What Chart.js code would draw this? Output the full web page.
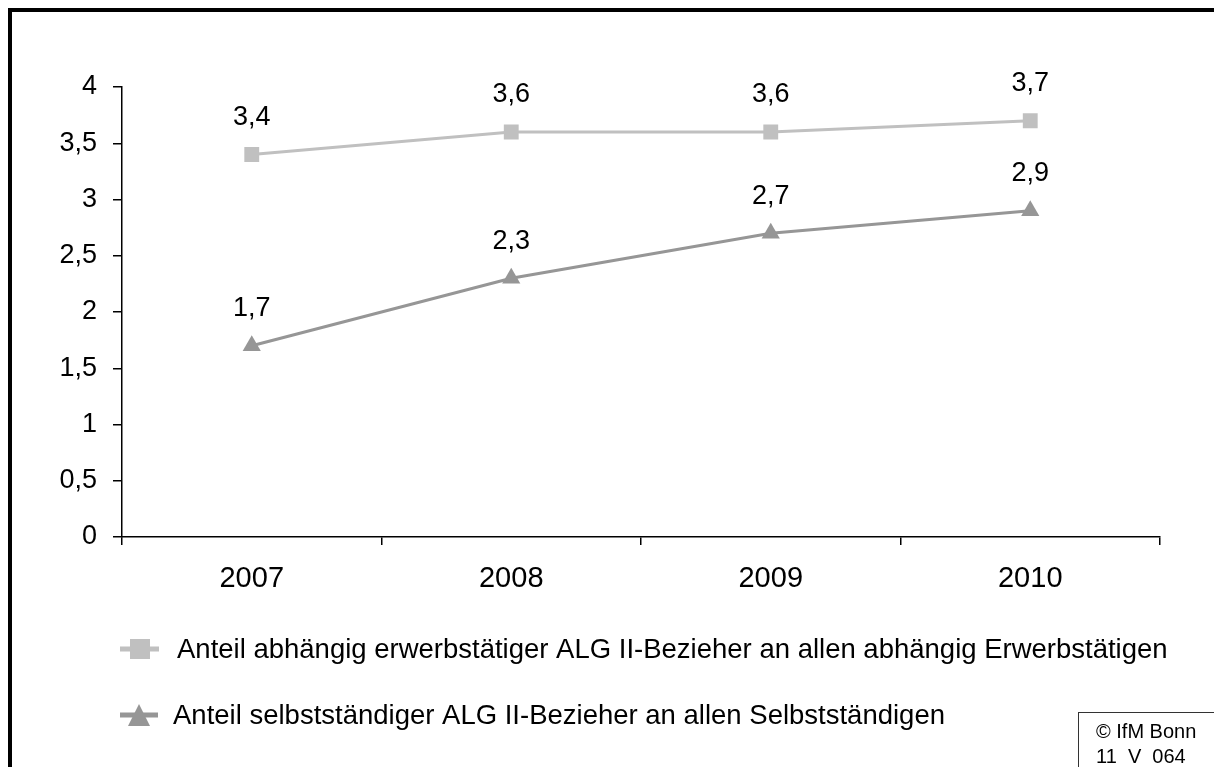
<!DOCTYPE html>
<html>
<head>
<meta charset="utf-8">
<script src="https://cdn.jsdelivr.net/npm/chart.js@4.4.0/dist/chart.umd.min.js"></script>
<style>
  html, body { margin: 0; padding: 0; background: #fff; }
  #wrap { position: relative; width: 1214px; height: 767px; overflow: hidden; }
  #copyBox {
    position: absolute; left: 1078px; top: 712px; width: 140px; height: 70px;
    border: 1.5px solid #333; box-sizing: border-box;
    font-family: "Liberation Sans", Arial, sans-serif; font-size: 20px; color: #000;
    padding-left: 17px; padding-top: 6px; line-height: 25px;
  }
</style>
</head>
<body>
<div id="wrap">
  <canvas id="chart" width="1214" height="767"></canvas>
  <div id="copyBox">© IfM Bonn<br>11&nbsp; V&nbsp; 064</div>
</div>
<script>
// Data
const years = ['2007', '2008', '2009', '2010'];
const abhaengigValues = [3.4, 3.6, 3.6, 3.7];
const selbststaendigValues = [1.7, 2.3, 2.7, 2.9];
const seriesNames = [
  'Anteil abhängig erwerbstätiger ALG II-Bezieher an allen abhängig Erwerbstätigen',
  'Anteil selbstständiger ALG II-Bezieher an allen Selbstständigen'
];

const FONT = '"Liberation Sans", Arial, sans-serif';
const fmt = v => String(v).replace('.', ',');

// White background and the black frame round the whole picture
const framePlugin = {
  id: 'frame',
  beforeDraw(chart) {
    const ctx = chart.ctx;
    ctx.save();
    ctx.fillStyle = '#fff';
    ctx.fillRect(0, 0, chart.width, chart.height);
    ctx.strokeStyle = '#000';
    ctx.lineWidth = 4;
    ctx.strokeRect(10, 10, chart.width + 20, chart.height + 20);
    ctx.restore();
  }
};

// Value labels above each point
const valueLabels = {
  id: 'valueLabels',
  afterDatasetsDraw(chart) {
    const ctx = chart.ctx;
    ctx.save();
    ctx.font = '27px ' + FONT;
    ctx.fillStyle = '#000';
    ctx.textAlign = 'center';
    ctx.textBaseline = 'middle';
    chart.data.datasets.forEach((ds, i) => {
      chart.getDatasetMeta(i).data.forEach((pt, j) => {
        ctx.fillText(fmt(ds.data[j]), pt.x, pt.y - 37);
      });
    });
    ctx.restore();
  }
};

// Stacked legend under the axis: line with marker, then the label
const stackedLegend = {
  id: 'stackedLegend',
  afterDraw(chart) {
    const ctx = chart.ctx;
    const rows = [
      { y: 649, x0: 120, x1: 159, mx: 140, tx: 177 },
      { y: 715, x0: 120, x1: 158, mx: 139, tx: 173 }
    ];
    ctx.save();
    chart.data.datasets.forEach((ds, i) => {
      const r = rows[i];
      ctx.strokeStyle = ds.borderColor;
      ctx.lineWidth = 5;
      ctx.beginPath();
      ctx.moveTo(r.x0, r.y);
      ctx.lineTo(r.x1, r.y);
      ctx.stroke();
      ctx.fillStyle = ds.pointBackgroundColor;
      if (ds.pointStyle === 'rect') {
        ctx.fillRect(r.mx - 10, r.y - 10, 20, 20);
      } else {
        ctx.beginPath();
        ctx.moveTo(r.mx, r.y - 11);
        ctx.lineTo(r.mx + 11, r.y + 11);
        ctx.lineTo(r.mx - 11, r.y + 11);
        ctx.closePath();
        ctx.fill();
      }
      ctx.fillStyle = '#000';
      ctx.font = '27.5px ' + FONT;
      ctx.textAlign = 'left';
      ctx.textBaseline = 'middle';
      ctx.fillText(ds.label, r.tx, r.y + 1);
    });
    ctx.restore();
  }
};

new Chart(document.getElementById('chart'), {
  type: 'line',
  data: {
    labels: years,
    datasets: [
      {
        label: seriesNames[0],
        data: abhaengigValues,
        borderColor: '#c0c0c0',
        backgroundColor: '#c0c0c0',
        pointBackgroundColor: '#c0c0c0',
        pointBorderColor: '#c0c0c0',
        pointStyle: 'rect',
        pointRadius: 10.5,
        pointBorderWidth: 0,
        borderWidth: 3,
        tension: 0
      },
      {
        label: seriesNames[1],
        data: selbststaendigValues,
        borderColor: '#969696',
        backgroundColor: '#969696',
        pointBackgroundColor: '#969696',
        pointBorderColor: '#969696',
        pointStyle: 'triangle',
        pointRadius: 10.5,
        pointBorderWidth: 0,
        borderWidth: 3,
        tension: 0
      }
    ]
  },
  options: {
    responsive: false,
    animation: false,
    layout: { padding: { left: 0, top: 87, right: 54, bottom: 0 } },
    plugins: {
      legend: { display: false },
      tooltip: { enabled: false }
    },
    scales: {
      x: {
        offset: true,
        grid: {
          offset: true,
          drawOnChartArea: false,
          tickLength: 8,
          color: '#000',
          lineWidth: 1.5
        },
        border: { color: '#000', width: 1.5 },
        ticks: {
          font: { family: FONT, size: 29 },
          color: '#000',
          padding: 17
        },
        afterFit(scale) { scale.height = 230; }
      },
      y: {
        min: 0,
        max: 4,
        grid: {
          drawOnChartArea: false,
          tickLength: 9,
          color: '#000',
          lineWidth: 1.5
        },
        border: { color: '#000', width: 1.5 },
        ticks: {
          stepSize: 0.5,
          font: { family: FONT, size: 27 },
          color: '#000',
          padding: 16,
          callback: v => fmt(v)
        },
        afterFit(scale) { scale.width = 122; }
      }
    }
  },
  plugins: [framePlugin, valueLabels, stackedLegend]
});
</script>
</body>
</html>
